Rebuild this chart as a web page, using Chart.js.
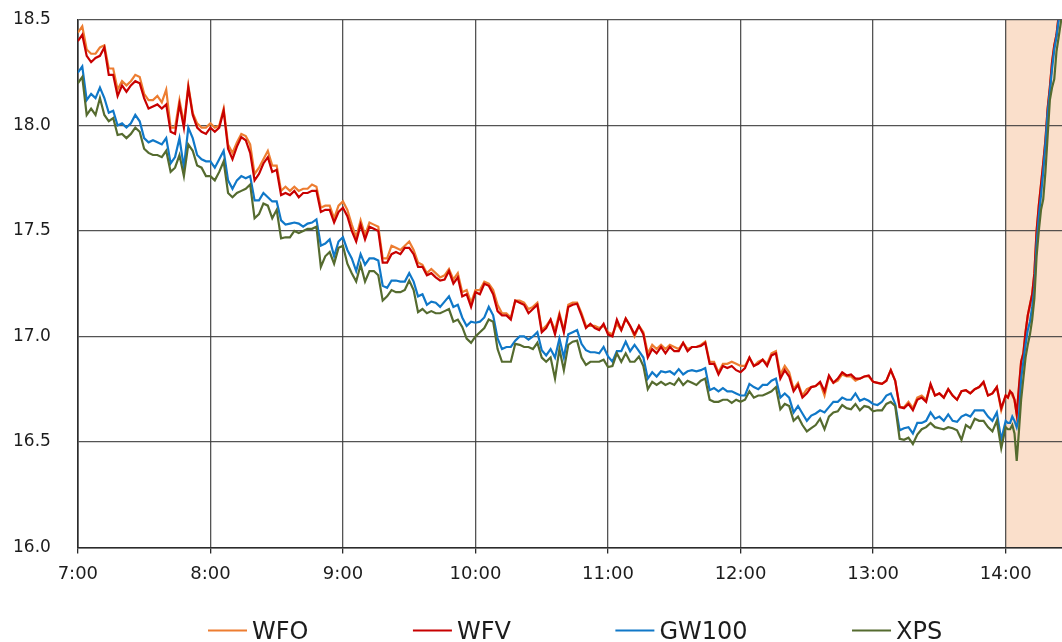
<!DOCTYPE html>
<html>
<head>
<meta charset="utf-8">
<title>WFO / WFV / GW100 / XPS</title>
<script src="https://cdn.jsdelivr.net/npm/chart.js@4.4.1/dist/chart.umd.min.js"></script>
<style>
  html, body { margin: 0; padding: 0; background: #ffffff; }
  #wrap { width: 1062px; height: 642px; position: relative; }
</style>
</head>
<body>
<div id="wrap"><canvas id="chart" width="1062" height="642"></canvas></div>
<script>
// Sample times, in minutes after 7:00
const minutesAfter7 = [
  0, 2, 4, 6, 8, 10, 12, 14, 16, 18,
  20, 22, 24, 26, 28, 30, 32, 34, 36, 38,
  40, 42, 44, 46, 48, 50, 52, 54, 56, 58,
  60, 62, 64, 66, 68, 70, 72, 74, 76, 78,
  80, 82, 84, 86, 88, 90, 92, 94, 96, 98,
  100, 102, 104, 106, 108, 110, 112, 114, 116, 118,
  120, 122, 124, 126, 128, 130, 132, 134, 136, 138,
  140, 142, 144, 146, 148, 150, 152, 154, 156, 158,
  160, 162, 164, 166, 168, 170, 172, 174, 176, 178,
  180, 182, 184, 186, 188, 190, 192, 194, 196, 198,
  200, 202, 204, 206, 208, 210, 212, 214, 216, 218,
  220, 222, 224, 226, 228, 230, 232, 234, 236, 238,
  240, 242, 244, 246, 248, 250, 252, 254, 256, 258,
  260, 262, 264, 266, 268, 270, 272, 274, 276, 278,
  280, 282, 284, 286, 288, 290, 292, 294, 296, 298,
  300, 302, 304, 306, 308, 310, 312, 314, 316, 318,
  320, 322, 324, 326, 328, 330, 332, 334, 336, 338,
  340, 342, 344, 346, 348, 350, 352, 354, 356, 358,
  360, 362, 364, 366, 368, 370, 372, 374, 376, 378,
  380, 382, 384, 386, 388, 390, 392, 394, 396, 398,
  400, 402, 404, 406, 408, 410, 412, 414, 416, 418,
  420, 421, 422, 423, 424, 425, 426, 427, 428, 429,
  430, 431, 432, 433, 434, 435, 436, 437, 438, 439,
  440, 441, 442, 443, 444, 445, 446
];

const hourLabels = ['7:00', '8:00', '9:00', '10:00', '11:00', '12:00', '13:00', '14:00'];
const hourMinutes = [0, 60, 120, 180, 240, 300, 360, 420];
const seriesNames = ['WFO', 'WFV', 'GW100', 'XPS'];

const wfo = [
  18.44, 18.47, 18.36, 18.34, 18.34, 18.37, 18.38, 18.27, 18.27, 18.17,
  18.21, 18.19, 18.21, 18.24, 18.23, 18.15, 18.12, 18.12, 18.14, 18.11,
  18.17, 17.99, 17.99, 18.12, 18.01, 18.19, 18.06, 18.01, 17.99, 17.99,
  18.01, 17.99, 18.00, 18.08, 17.91, 17.87, 17.92, 17.96, 17.95, 17.91,
  17.77, 17.80, 17.84, 17.88, 17.81, 17.81, 17.69, 17.71, 17.69, 17.71,
  17.69, 17.70, 17.70, 17.72, 17.71, 17.61, 17.62, 17.62, 17.56, 17.62,
  17.64, 17.60, 17.53, 17.47, 17.55, 17.48, 17.54, 17.53, 17.52, 17.37,
  17.37, 17.43, 17.42, 17.41, 17.43, 17.45, 17.41, 17.35, 17.34, 17.30,
  17.32, 17.30, 17.28, 17.29, 17.32, 17.27, 17.30, 17.21, 17.22, 17.16,
  17.22, 17.22, 17.26, 17.25, 17.22, 17.15, 17.11, 17.11, 17.09, 17.17,
  17.17, 17.16, 17.13, 17.14, 17.16, 17.03, 17.05, 17.08, 17.03, 17.11,
  17.03, 17.15, 17.16, 17.16, 17.11, 17.05, 17.05, 17.05, 17.04, 17.05,
  17.02, 17.01, 17.06, 17.03, 17.085, 17.05, 17.00, 17.05, 17.02, 16.92,
  16.96, 16.94, 16.96, 16.94, 16.96, 16.95, 16.94, 16.97, 16.94, 16.95,
  16.95, 16.96, 16.975, 16.88, 16.88, 16.83, 16.87, 16.87, 16.88, 16.87,
  16.86, 16.86, 16.90, 16.86, 16.88, 16.89, 16.87, 16.92, 16.93, 16.82,
  16.86, 16.83, 16.75, 16.78, 16.72, 16.75, 16.76, 16.765, 16.78, 16.72,
  16.81, 16.78, 16.79, 16.82, 16.81, 16.81, 16.79, 16.80, 16.81, 16.81,
  16.785, 16.78, 16.775, 16.79, 16.84, 16.79, 16.665, 16.665, 16.69, 16.66,
  16.71, 16.72, 16.70, 16.77, 16.72, 16.73, 16.71, 16.75, 16.72, 16.70,
  16.74, 16.745, 16.73, 16.75, 16.76, 16.78, 16.72, 16.73, 16.76, 16.65,
  16.72, 16.71, 16.74, 16.72, 16.70, 16.63, 16.75, 16.88, 16.92, 17.02,
  17.10, 17.15, 17.20, 17.30, 17.50, 17.62, 17.72, 17.82, 17.93, 18.08,
  18.18, 18.30, 18.38, 18.43, 18.52, 18.62, 18.70
];

const wfv = [
  18.40, 18.43, 18.33, 18.30, 18.32, 18.33, 18.37, 18.24, 18.24, 18.14,
  18.19, 18.16, 18.19, 18.21, 18.20, 18.13, 18.08, 18.09, 18.10, 18.08,
  18.10, 17.97, 17.96, 18.10, 17.99, 18.18, 18.05, 17.99, 17.97, 17.96,
  17.99, 17.97, 17.99, 18.07, 17.89, 17.84, 17.90, 17.945, 17.93, 17.87,
  17.74, 17.77, 17.82, 17.85, 17.78, 17.79, 17.67, 17.68, 17.67, 17.69,
  17.66, 17.68, 17.68, 17.69, 17.69, 17.59, 17.60, 17.60, 17.54, 17.59,
  17.61, 17.57, 17.50, 17.45, 17.53, 17.46, 17.52, 17.51, 17.50, 17.35,
  17.35, 17.39, 17.40, 17.39, 17.42, 17.42, 17.39, 17.33, 17.33, 17.29,
  17.30, 17.28, 17.265, 17.27, 17.31, 17.25, 17.28, 17.19, 17.20, 17.14,
  17.21, 17.20, 17.25, 17.24, 17.20, 17.12, 17.10, 17.10, 17.08, 17.17,
  17.16, 17.15, 17.11, 17.13, 17.15, 17.02, 17.04, 17.08, 17.01, 17.10,
  17.02, 17.14, 17.15, 17.155, 17.10, 17.04, 17.06, 17.04, 17.03, 17.06,
  17.01, 17.00, 17.08, 17.03, 17.085, 17.05, 17.01, 17.05, 17.01, 16.90,
  16.94, 16.92, 16.95, 16.92, 16.95, 16.93, 16.93, 16.97, 16.93, 16.95,
  16.95, 16.955, 16.97, 16.87, 16.87, 16.82, 16.86, 16.85, 16.86, 16.84,
  16.83, 16.85, 16.90, 16.86, 16.87, 16.89, 16.86, 16.91, 16.92, 16.80,
  16.84, 16.81, 16.74, 16.77, 16.71, 16.73, 16.76, 16.765, 16.785, 16.74,
  16.815, 16.78, 16.80, 16.83, 16.815, 16.82, 16.80, 16.80, 16.81, 16.815,
  16.785, 16.78, 16.775, 16.79, 16.84, 16.79, 16.665, 16.66, 16.68, 16.65,
  16.70, 16.71, 16.69, 16.775, 16.72, 16.73, 16.71, 16.75, 16.72, 16.70,
  16.74, 16.745, 16.73, 16.75, 16.76, 16.785, 16.72, 16.73, 16.76, 16.66,
  16.72, 16.71, 16.74, 16.73, 16.70, 16.63, 16.76, 16.88, 16.92, 17.02,
  17.10, 17.15, 17.20, 17.30, 17.50, 17.62, 17.72, 17.82, 17.93, 18.08,
  18.18, 18.30, 18.38, 18.43, 18.52, 18.62, 18.70
];

const gw100 = [
  18.25, 18.28, 18.12, 18.15, 18.13, 18.18, 18.13, 18.06, 18.07, 18.00,
  18.01, 17.99, 18.01, 18.05, 18.02, 17.94, 17.92, 17.93, 17.92, 17.91,
  17.94, 17.82, 17.85, 17.94, 17.80, 17.99, 17.94, 17.86, 17.84, 17.83,
  17.83, 17.80, 17.84, 17.88, 17.74, 17.70, 17.74, 17.76, 17.75, 17.76,
  17.645, 17.645, 17.68, 17.66, 17.64, 17.64, 17.55, 17.53, 17.535, 17.54,
  17.535, 17.52, 17.535, 17.54, 17.555, 17.43, 17.44, 17.46, 17.38, 17.45,
  17.47, 17.41, 17.37, 17.31, 17.39, 17.34, 17.37, 17.37, 17.36, 17.24,
  17.23, 17.265, 17.265, 17.26, 17.26, 17.30, 17.26, 17.19, 17.20, 17.15,
  17.165, 17.16, 17.14, 17.165, 17.19, 17.14, 17.15, 17.09, 17.05, 17.07,
  17.065, 17.07, 17.09, 17.14, 17.10, 16.99, 16.94, 16.95, 16.95, 16.98,
  17.00, 17.00, 16.985, 17.00, 17.02, 16.935, 16.91, 16.94, 16.90, 16.99,
  16.90, 17.01, 17.02, 17.03, 16.965, 16.935, 16.925, 16.925, 16.92, 16.95,
  16.905, 16.88, 16.93, 16.93, 16.975, 16.93, 16.96, 16.93, 16.90, 16.80,
  16.83, 16.81, 16.835, 16.83, 16.835, 16.82, 16.845, 16.82, 16.835, 16.84,
  16.835, 16.84, 16.85, 16.745, 16.755, 16.74, 16.755, 16.74, 16.74, 16.73,
  16.72, 16.72, 16.775, 16.76, 16.75, 16.77, 16.77, 16.79, 16.80, 16.71,
  16.73, 16.71, 16.64, 16.67, 16.635, 16.60, 16.625, 16.635, 16.65, 16.64,
  16.665, 16.69, 16.69, 16.71, 16.70, 16.70, 16.73, 16.695, 16.705, 16.695,
  16.68, 16.675, 16.69, 16.72, 16.73, 16.68, 16.555, 16.565, 16.57, 16.54,
  16.59, 16.59, 16.60, 16.64, 16.61, 16.62, 16.60, 16.63, 16.60, 16.595,
  16.62, 16.63, 16.62, 16.65, 16.65, 16.65, 16.62, 16.60, 16.64, 16.51,
  16.60, 16.59, 16.59, 16.62, 16.60, 16.57, 16.62, 16.80, 16.88, 16.96,
  17.03, 17.07, 17.14, 17.23, 17.44, 17.57, 17.67, 17.78, 17.91, 18.06,
  18.16, 18.27, 18.36, 18.42, 18.50, 18.60, 18.68
];

const xps = [
  18.20, 18.23, 18.05, 18.08, 18.05, 18.13, 18.05, 18.02, 18.035, 17.955,
  17.96, 17.94, 17.96, 17.99, 17.97, 17.89, 17.87, 17.86, 17.86, 17.85,
  17.88, 17.78, 17.80, 17.86, 17.76, 17.91, 17.88, 17.81, 17.80, 17.76,
  17.76, 17.74, 17.78, 17.83, 17.68, 17.66, 17.68, 17.69, 17.70, 17.72,
  17.56, 17.58, 17.63, 17.62, 17.56, 17.60, 17.465, 17.47, 17.47, 17.50,
  17.49, 17.50, 17.51, 17.51, 17.52, 17.33, 17.38, 17.40, 17.345, 17.42,
  17.43, 17.345, 17.30, 17.26, 17.34, 17.26, 17.31, 17.31, 17.29, 17.17,
  17.19, 17.22, 17.21, 17.21, 17.22, 17.265, 17.22, 17.115, 17.13, 17.11,
  17.12, 17.11, 17.11, 17.12, 17.13, 17.07, 17.08, 17.045, 16.99, 16.97,
  17.00, 17.02, 17.04, 17.08, 17.07, 16.94, 16.88, 16.88, 16.88, 16.965,
  16.96, 16.95, 16.95, 16.94, 16.97, 16.90, 16.88, 16.90, 16.80, 16.94,
  16.84, 16.96, 16.975, 16.98, 16.90, 16.865, 16.88, 16.88, 16.88, 16.89,
  16.855, 16.86, 16.92, 16.88, 16.92, 16.88, 16.88, 16.905, 16.86, 16.75,
  16.785, 16.77, 16.785, 16.77, 16.78, 16.77, 16.80, 16.77, 16.79, 16.78,
  16.77, 16.79, 16.80, 16.70, 16.69, 16.69, 16.70, 16.70, 16.685, 16.70,
  16.69, 16.70, 16.74, 16.71, 16.72, 16.72, 16.73, 16.74, 16.76, 16.655,
  16.68, 16.67, 16.60, 16.62, 16.58, 16.55, 16.565, 16.58, 16.61, 16.56,
  16.62, 16.64, 16.645, 16.675, 16.66, 16.655, 16.68, 16.65, 16.67, 16.665,
  16.645, 16.65, 16.65, 16.68, 16.69, 16.67, 16.515, 16.51, 16.52, 16.49,
  16.535, 16.56, 16.57, 16.59, 16.57, 16.565, 16.56, 16.57, 16.565, 16.555,
  16.51, 16.58, 16.565, 16.61, 16.60, 16.60, 16.57, 16.55, 16.60, 16.47,
  16.57, 16.56, 16.56, 16.58, 16.54, 16.41, 16.55, 16.70, 16.80, 16.90,
  16.96, 17.01, 17.08, 17.18, 17.38, 17.50, 17.60, 17.65, 17.78, 17.95,
  18.12, 18.18, 18.22, 18.35, 18.42, 18.49, 18.58
];

const seriesValues = [wfo, wfv, gw100, xps];
const seriesColors = ['#ED7D31', '#C80000', '#1078C8', '#556B2F'];
// drawing order: lower numbers end up on top
const seriesOrder = [4, 3, 2, 1];

const highlightStart = 420;   // 14:00
const gridColor = 'rgba(60, 60, 60, 0.88)';
const axisColor = '#2b2b2b';
const textColor = '#1c1c1c';

// Peach band behind the afternoon section
const highlightBand = {
  id: 'highlightBand',
  beforeDraw(chart) {
    const { ctx, chartArea, scales } = chart;
    const left = scales.x.getPixelForValue(highlightStart);
    ctx.save();
    ctx.fillStyle = '#FADFCB';
    ctx.fillRect(left, chartArea.top, chartArea.right - left, chartArea.bottom - chartArea.top);
    ctx.restore();
  }
};

// Single-row legend with short line samples under the axis
const lineLegend = {
  id: 'lineLegend',
  afterDraw(chart) {
    const ctx = chart.ctx;
    const sample = 39, gapText = 5, gapItem = 104.5;
    const lineY = 630.5, textY = 639;
    let x = 208;
    ctx.save();
    ctx.font = '24px "DejaVu Sans", Verdana, sans-serif';
    ctx.textBaseline = 'alphabetic';
    ctx.textAlign = 'left';
    chart.data.datasets.forEach(ds => {
      ctx.strokeStyle = ds.borderColor;
      ctx.lineWidth = 2;
      ctx.beginPath();
      ctx.moveTo(x, lineY);
      ctx.lineTo(x + sample, lineY);
      ctx.stroke();
      ctx.fillStyle = textColor;
      ctx.fillText(ds.label, x + sample + gapText, textY);
      x += sample + gapText + ctx.measureText(ds.label).width + gapItem;
    });
    ctx.restore();
  }
};

const datasets = seriesNames.map((name, i) => ({
  label: name,
  data: minutesAfter7.map((m, k) => ({ x: m, y: seriesValues[i][k] })),
  borderColor: seriesColors[i],
  backgroundColor: seriesColors[i],
  borderWidth: 2.2,
  pointRadius: 0,
  pointHoverRadius: 0,
  tension: 0,
  fill: false,
  order: seriesOrder[i]
}));

new Chart(document.getElementById('chart'), {
  type: 'line',
  data: { datasets },
  plugins: [highlightBand, lineLegend],
  options: {
    responsive: false,
    animation: false,
    events: [],
    layout: { padding: { left: 13, right: 0, top: 20, bottom: 57 } },
    plugins: {
      legend: { display: false },
      tooltip: { enabled: false }
    },
    scales: {
      x: {
        type: 'linear',
        min: 0,
        max: 445.5,
        afterBuildTicks(scale) {
          scale.ticks = hourMinutes.map(v => ({ value: v }));
        },
        // the label gap only needs to be reserved once, between axis and text
        afterFit(scale) {
          scale.height -= scale.options.ticks.padding;
        },
        ticks: {
          autoSkip: false,
          maxRotation: 0,
          padding: 10,
          color: textColor,
          font: { family: '"DejaVu Sans", Verdana, sans-serif', size: 18 },
          callback: (value, index) => hourLabels[index]
        },
        grid: {
          color: gridColor,
          lineWidth: 1.3,
          drawTicks: true,
          tickLength: 6,
          tickColor: axisColor
        },
        border: { color: axisColor, width: 1.6 }
      },
      y: {
        min: 16,
        max: 18.5,
        afterFit(scale) {
          scale.width -= scale.options.ticks.padding;
          scale.paddingTop = 0;
          scale.paddingBottom = 0;
        },
        ticks: {
          stepSize: 0.5,
          padding: 27,
          color: textColor,
          font: { family: '"DejaVu Sans", Verdana, sans-serif', size: 17 },
          callback: value => value.toFixed(1)
        },
        grid: {
          color: gridColor,
          lineWidth: 1.3,
          drawTicks: false
        },
        border: { color: axisColor, width: 1.6 }
      }
    }
  }
});
</script>
</body>
</html>
